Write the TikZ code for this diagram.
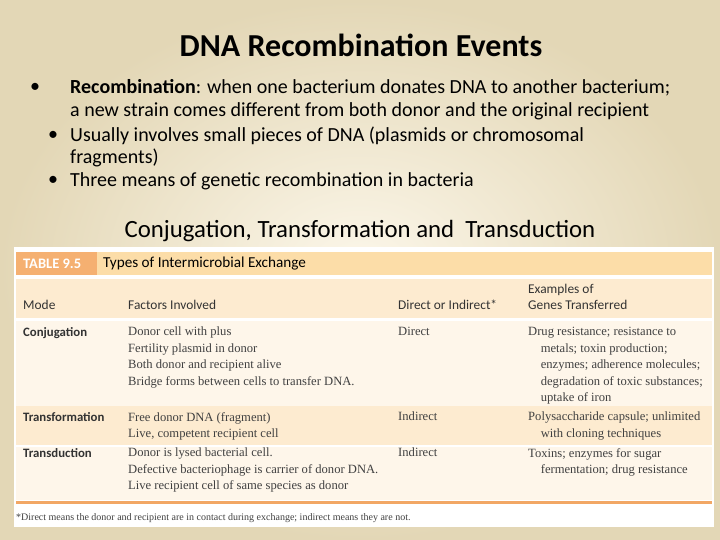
\documentclass[tikz,border=0pt]{standalone}
\usepackage{fontspec}
\setmainfont{Carlito}
\newfontfamily\ser{Liberation Serif}
\definecolor{bgin}{HTML}{FCF7EA}
\definecolor{bgout}{HTML}{E3D7B6}
\definecolor{hdr}{HTML}{FCDDA8}
\definecolor{tag}{HTML}{F5B071}
\definecolor{peach}{HTML}{FDEBD0}
\definecolor{lite}{HTML}{FEF6EA}
\definecolor{oline}{HTML}{F2A765}
\tikzset{
  bul/.style={anchor=north west,font=\fontsize{20}{22.5}\selectfont,align=left,inner sep=0},
  th/.style={anchor=north west,font=\fontsize{13.4}{16}\selectfont,inner sep=0,align=left,text=black!80},
  tm/.style={anchor=north west,font=\bfseries\fontsize{12.8}{16}\selectfont,inner sep=0,align=left,text=black!80},
  td/.style={anchor=north west,font=\ser\fontsize{12.6}{16.5}\selectfont,inner sep=0,align=left,text=black!75},
}
\begin{document}
\begin{tikzpicture}[x=1pt,y=-1pt]
\useasboundingbox (0,0) rectangle (720,540);
\shade[inner color=bgin,outer color=bgout] (0,0) rectangle (720,540);
\node[font=\bfseries\fontsize{32}{36}\selectfont] (title) at (361,45) {DNA Recombination Events};
\node[bul,anchor=west] (b1) at (30,88) {•};
\node[bul,anchor=west] (t1) at (70,88) {\textbf{Recombination}: when one bacterium donates DNA to another bacterium;};
\node[bul,anchor=west] (t1b) at (70,111) {a new strain comes different from both donor and the original recipient};
\node[bul,anchor=west] (b2) at (48,136) {•};
\node[bul,anchor=west] (t2) at (70,136) {Usually involves small pieces of DNA (plasmids or chromosomal};
\node[bul,anchor=west] (t2b) at (70,158) {fragments)};
\node[bul,anchor=west] (b3) at (48,181) {•};
\node[bul,anchor=west] (t3) at (70,181) {Three means of genetic recombination in bacteria};
\node[font=\fontsize{24.8}{28}\selectfont] (sub) at (360,231) {Conjugation, Transformation and\ \ Transduction};
% table
\fill[white] (14,247) rectangle (714,527);
\fill[hdr] (16,252) rectangle (712,275);
\fill[tag] (16,252) rectangle (97,275);
\fill[peach] (16,279) rectangle (712,318);
\fill[lite] (16,321) rectangle (712,406);
\fill[peach] (16,406) rectangle (712,445);
\fill[lite] (16,447) rectangle (712,500);
\fill[oline] (16,501) rectangle (712,504);
\node[anchor=west,font=\bfseries\fontsize{14.5}{16}\selectfont,text=white,inner sep=0] (tg) at (23,264) {TABLE 9.5};
\node[anchor=west,font=\fontsize{15.2}{16}\selectfont,inner sep=0] (tt) at (103,264) {Types of Intermicrobial Exchange};
\node[th] (h1) at (23,300) {Mode};
\node[th] (h2) at (128,300) {Factors Involved};
\node[th] (h3) at (398,300) {Direct or Indirect*};
\node[th] (h4) at (528,284) {Examples of\\Genes Transferred};
\node[tm] (m1) at (23,327) {Conjugation};
\node[td] (f1) at (128,327) {Donor cell with plus\\Fertility plasmid in donor\\Both donor and recipient alive\\Bridge forms between cells to transfer DNA.};
\node[td] (d1) at (398,327) {Direct};
\node[td] (e1) at (528,327) {Drug resistance; resistance to\\\quad metals; toxin production;\\\quad enzymes; adherence molecules;\\\quad degradation of toxic substances;\\\quad uptake of iron};
\node[tm] (m2) at (23,412) {Transformation};
\node[td] (f2) at (128,412) {Free donor DNA (fragment)\\Live, competent recipient cell};
\node[td] (d2) at (398,412) {Indirect};
\node[td] (e2) at (528,412) {Polysaccharide capsule; unlimited\\\quad with cloning techniques};
\node[tm] (m3) at (23,448) {Transduction};
\node[td] (f3) at (128,448) {Donor is lysed bacterial cell.\\Defective bacteriophage is carrier of donor DNA.\\Live recipient cell of same species as donor};
\node[td] (d3) at (398,448) {Indirect};
\node[td] (e3) at (528,448) {Toxins; enzymes for sugar\\\quad fermentation; drug resistance};
\node[anchor=west,font=\ser\fontsize{10}{11}\selectfont,inner sep=0,text=black!75] (fn) at (16,518) {*Direct means the donor and recipient are in contact during exchange; indirect means they are not.};
\end{tikzpicture}
\end{document}
